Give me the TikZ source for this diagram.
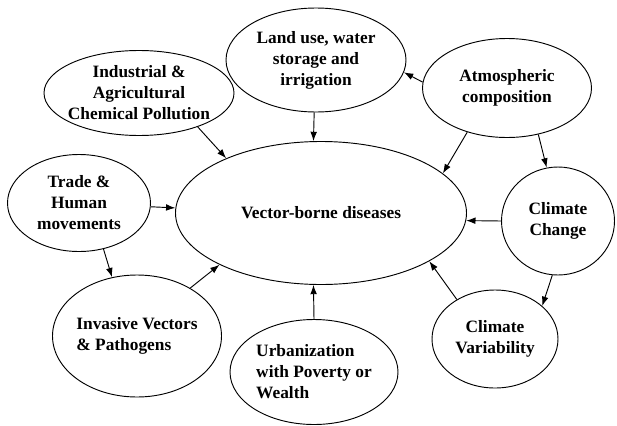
\documentclass[tikz,border=0pt]{standalone}
\usepackage{fontspec}
\setmainfont{Liberation Serif}
\usetikzlibrary{shapes.geometric, arrows.meta}

\begin{document}
\begin{tikzpicture}[x=0.75pt, y=-0.75pt, line width=0.7pt, >={Latex[length=7pt,width=5pt]}, main/.style = {draw, ellipse, inner sep=-8pt, align=center, font=\fontsize{13}{15.75}\selectfont\bfseries}] 
\useasboundingbox (0,0) rectangle (617,425);
\node[main, minimum width=218.25pt, minimum height=107.25pt] (1) at (321,213) {Vector-borne diseases}; 
\node[main, minimum width=135pt, minimum height=78pt] (2) at (316,60) {Land use, water\\storage and\\irrigation}; 
\node[main, minimum width=142.5pt, minimum height=63.75pt] (3) at (139,93) {Industrial \&\\Agricultural\\Chemical Pollution}; 
\node[main, minimum width=126.75pt, minimum height=74.25pt] (4) at (507,88) {Atmospheric\\composition}; 
\node[main, minimum width=107.25pt, minimum height=72.75pt] (5) at (79,203) {Trade \&\\Human\\movements}; 
\node[main, minimum width=84.75pt, minimum height=81pt] (6) at (558,221) {Climate\\Change}; 
\node[main, minimum width=126.75pt, minimum height=91.5pt, align=left] (7) at (137,336) {Invasive Vectors\\\& Pathogens}; 
\node[main, minimum width=126pt, minimum height=78.75pt, align=left] (8) at (314,372) {Urbanization\\with Poverty or\\Wealth}; 
\node[main, minimum width=94.5pt, minimum height=73.5pt] (9) at (495,339) {Climate\\Variability}; 
\draw[->] (2.268) -- (1.96); 
\draw[->] (4.176) -- (2.352); 
\draw[->] (4.228) -- (1.18); 
\draw[->] (4.304) -- (6.102); 
\draw[->] (6.180) -- (1.357); 
\draw[->] (6.264) -- (9.35); 
\draw[->] (9.134) -- (1.336); 
\draw[->] (8.90) -- (1.264); 
\draw[->] (7.42) -- (1.207); 
\draw[->] (5.298) -- (7.113); 
\draw[->] (5.357) -- (1.178); 
\draw[->] (3.330) -- (1.150); 
\end{tikzpicture}
\end{document}
